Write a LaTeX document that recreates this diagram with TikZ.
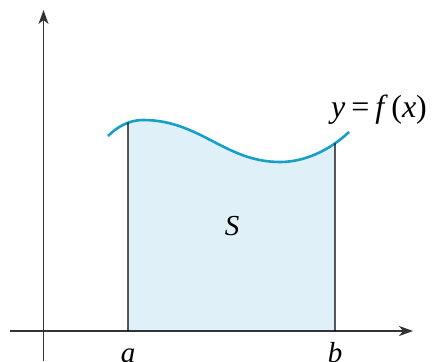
\documentclass[tikz,border=0pt]{standalone}
\usepackage{fontspec}
\setmainfont{Liberation Serif}
\usetikzlibrary{arrows.meta,intersections}
\definecolor{curveblue}{HTML}{15A0C8}
\definecolor{fillblue}{HTML}{DFF0F8}
\definecolor{axisgray}{HTML}{333333}
\begin{document}
\begin{tikzpicture}[x=1pt,y=-1pt,
  axis/.style={draw=axisgray,line width=1.4pt,-{Stealth[length=14pt,width=10pt,inset=4pt]}},
  curveline/.style={draw=curveblue,line width=2.6pt},
  boundline/.style={draw=black,line width=1.1pt},
  lbl/.style={font=\fontsize{29}{31}\selectfont\itshape,inner sep=0pt}]
\useasboundingbox (0,0) rectangle (435,361);
% filled region
\begin{scope}
  \clip (128,0) rectangle (335,331);
  \fill[fillblue] (108,136) .. controls (118,126) and (130,120) .. (143,120)
     .. controls (200,120) and (225,162) .. (280,162)
     .. controls (305,162) and (330,150) .. (349,132) -- (349,331) -- (108,331) -- cycle;
\end{scope}
% axes
\coordinate (xs) at (10,331);
\coordinate (xe) at (413,331);
\coordinate (ys) at (43.5,361);
\coordinate (ye) at (43.5,10);
\draw[axis] (xs) -- (xe);
\draw[axis] (ys) -- (ye);
% curve
\draw[curveline,name path=curve] (108,136) .. controls (118,126) and (130,120) .. (143,120)
     .. controls (200,120) and (225,162) .. (280,162)
     .. controls (305,162) and (330,150) .. (349,132);
% vertical bounds
\coordinate (a0) at (128,331);
\coordinate (b0) at (335,331);
\path[name path=va] (128,331) -- (128,50);
\path[name path=vb] (335,331) -- (335,50);
\path[name intersections={of=curve and va,by=a1}];
\path[name intersections={of=curve and vb,by=b1}];
\draw[boundline] (a0) -- (a1);
\draw[boundline] (b0) -- (b1);
% labels
\node[lbl,anchor=base] (la) at (128,362) {a};
\node[lbl,anchor=base] (lb) at (335,362) {b};
\node[lbl] (ls) at (232,226) {S};
\node[lbl,font=\fontsize{32}{34}\selectfont\itshape,anchor=base west] (lf) at (331,117) {y\kern6pt{\upshape=}\kern6pt f\kern7pt{\upshape(}x{\upshape)}};
\end{tikzpicture}
\end{document}
